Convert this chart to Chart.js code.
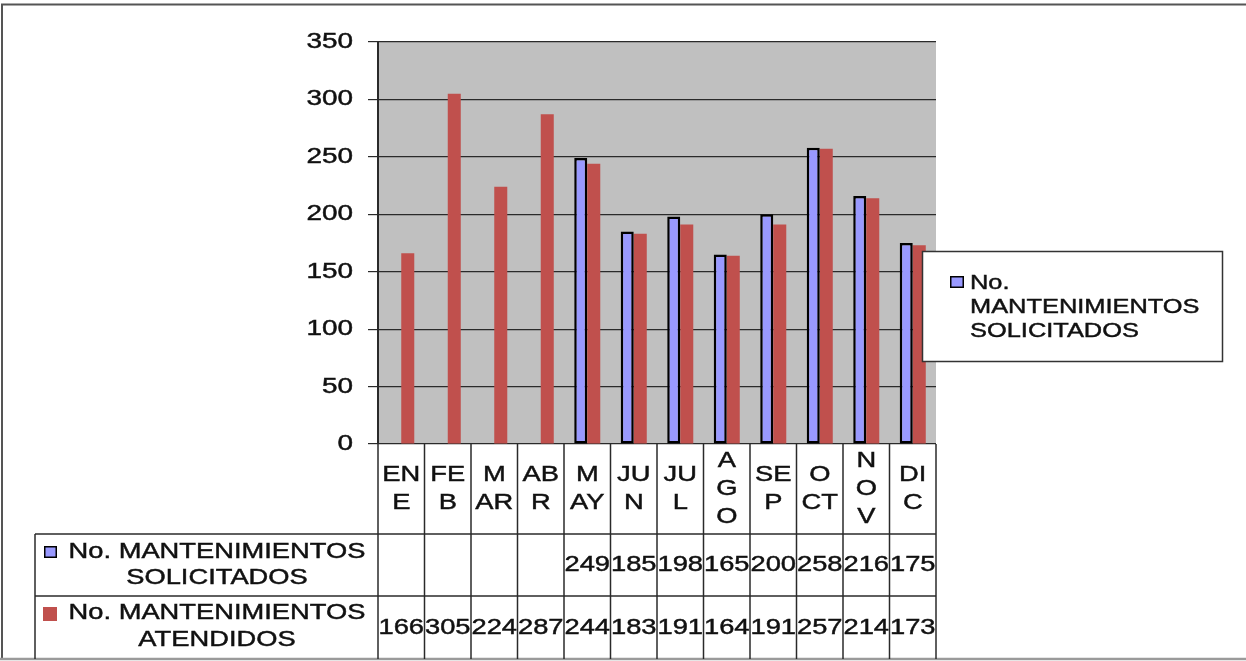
<!DOCTYPE html>
<html>
<head>
<meta charset="utf-8">
<title>Mantenimientos</title>
<script src="https://cdn.jsdelivr.net/npm/chart.js@4.4.1/dist/chart.umd.min.js"></script>
<style>
  html, body { margin: 0; padding: 0; background: #ffffff; }
  canvas { display: block; }
</style>
</head>
<body>
<canvas id="chart" width="1246" height="661"></canvas>
<script>
// Months and the way each name wraps inside its narrow table column
const months = ['ENE', 'FEB', 'MAR', 'ABR', 'MAY', 'JUN', 'JUL', 'AGO', 'SEP', 'OCT', 'NOV', 'DIC'];
const monthLines = [['EN', 'E'], ['FE', 'B'], ['M', 'AR'], ['AB', 'R'], ['M', 'AY'], ['JU', 'N'],
                    ['JU', 'L'], ['A', 'G', 'O'], ['SE', 'P'], ['O', 'CT'], ['N', 'O', 'V'], ['DI', 'C']];

// Series
const solicitadosName = ['No. MANTENIMIENTOS', 'SOLICITADOS'];
const atendidosName = ['No. MANTENIMIENTOS', 'ATENDIDOS'];
const solicitados = [null, null, null, null, 249, 185, 198, 165, 200, 258, 216, 175];
const atendidos = [166, 305, 224, 287, 244, 183, 191, 164, 191, 257, 214, 173];

// Value axis
const yTicks = [0, 50, 100, 150, 200, 250, 300, 350];

const BLUE = '#9999ff';
const RED = '#c0504d';
const INK = '#111111';
const LINE = '#2a2a2a';
const FONT = '"Liberation Sans", Arial, sans-serif';
const SX = 1.27; // horizontal stretch of the lettering

function wideText(ctx, txt, x, y, align, size) {
  ctx.save();
  ctx.font = size + 'px ' + FONT;
  ctx.fillStyle = INK;
  ctx.strokeStyle = INK;
  ctx.lineWidth = 0.45;
  ctx.textBaseline = 'middle';
  ctx.translate(x, y);
  ctx.scale(SX, 1);
  ctx.textAlign = align;
  ctx.fillText(txt, 0, 0);
  ctx.strokeText(txt, 0, 0);
  ctx.restore();
}

function line(ctx, x1, y1, x2, y2, color, w) {
  ctx.save();
  ctx.strokeStyle = color;
  ctx.lineWidth = w;
  ctx.beginPath();
  ctx.moveTo(x1, y1);
  ctx.lineTo(x2, y2);
  ctx.stroke();
  ctx.restore();
}

function swatch(ctx, x, y, w, h, fill, border) {
  ctx.save();
  ctx.fillStyle = fill;
  ctx.fillRect(x, y, w, h);
  if (border) {
    ctx.strokeStyle = border;
    ctx.lineWidth = 1.5;
    ctx.strokeRect(x + 0.75, y + 0.75, w - 1.5, h - 1.5);
  }
  ctx.restore();
}

const TABLE_LEFT = 35;
const ROW1_TOP = 534;
const ROW2_TOP = 596;
const TABLE_BOTTOM = 659;

// Grey plot background plus the page frame
const backdrop = {
  id: 'backdrop',
  beforeDraw(chart) {
    const { ctx, chartArea: a } = chart;
    ctx.save();
    ctx.fillStyle = '#c0c0c0';
    ctx.fillRect(a.left, a.top, a.right - a.left, a.bottom - a.top);
    ctx.restore();
    line(ctx, 1, 4.5, 1246, 4.5, '#555555', 2);
    line(ctx, 2, 4, 2, 659, '#555555', 2);
    line(ctx, 0, 659, 1246, 659, '#9a9a9a', 2.5);
  }
};

// Value labels, data table under the bars and the side legend
const tableAndLegend = {
  id: 'tableAndLegend',
  afterDraw(chart) {
    const { ctx, chartArea: a } = chart;
    const xs = chart.scales.x;
    const ys = chart.scales.y;
    const cw = (a.right - a.left) / months.length;

    // y tick labels
    ys.ticks.forEach(t => {
      wideText(ctx, String(t.value), 353, ys.getPixelForValue(t.value), 'right', 22);
    });

    // table grid
    for (let i = 0; i <= months.length; i++) {
      const x = i < months.length ? xs.getPixelForValue(i) - cw / 2 : xs.getPixelForValue(i - 1) + cw / 2;
      line(ctx, x, a.bottom, x, TABLE_BOTTOM, LINE, 1.5);
    }
    line(ctx, TABLE_LEFT, ROW1_TOP, a.right, ROW1_TOP, LINE, 1.5);
    line(ctx, TABLE_LEFT, ROW2_TOP, a.right, ROW2_TOP, LINE, 1.5);
    line(ctx, TABLE_LEFT, ROW1_TOP, TABLE_LEFT, TABLE_BOTTOM, LINE, 1.5);

    // month names
    monthLines.forEach((parts, i) => {
      const cx = xs.getPixelForValue(i);
      const step = 28;
      const y0 = 489 - (parts.length - 1) * step / 2;
      parts.forEach((p, k) => wideText(ctx, p, cx, y0 + k * step, 'center', 21.5));
    });

    // values
    solicitados.forEach((v, i) => {
      if (v !== null) wideText(ctx, String(v), xs.getPixelForValue(i), 565, 'center', 21.5);
    });
    atendidos.forEach((v, i) => {
      if (v !== null) wideText(ctx, String(v), xs.getPixelForValue(i), 628, 'center', 21.5);
    });

    // row headers
    swatch(ctx, 44, 546, 13, 12, BLUE, '#000000');
    wideText(ctx, solicitadosName[0], 217, 552, 'center', 21.5);
    wideText(ctx, solicitadosName[1], 217, 578, 'center', 21.5);
    swatch(ctx, 43, 607, 14, 14, RED, null);
    wideText(ctx, atendidosName[0], 217, 613, 'center', 21.5);
    wideText(ctx, atendidosName[1], 217, 640, 'center', 21.5);

    // side legend
    ctx.save();
    ctx.fillStyle = '#ffffff';
    ctx.fillRect(922, 251, 301, 111);
    ctx.strokeStyle = '#333333';
    ctx.lineWidth = 1.5;
    ctx.strokeRect(922.5, 251.5, 300, 110);
    ctx.restore();
    swatch(ctx, 950, 276, 14, 12, BLUE, '#000000');
    wideText(ctx, 'No.', 970, 283, 'left', 20);
    wideText(ctx, 'MANTENIMIENTOS', 970, 307, 'left', 20);
    wideText(ctx, 'SOLICITADOS', 970, 331, 'left', 20);
  }
};

new Chart(document.getElementById('chart'), {
  type: 'bar',
  data: {
    labels: months,
    datasets: [
      {
        label: solicitadosName.join(' '),
        data: solicitados,
        backgroundColor: BLUE,
        borderColor: '#000000',
        borderWidth: 2.5,
        borderSkipped: false,
        categoryPercentage: 0.56,
        barPercentage: 1
      },
      {
        label: atendidosName.join(' '),
        data: atendidos,
        backgroundColor: RED,
        borderWidth: 0,
        categoryPercentage: 0.56,
        barPercentage: 1
      }
    ]
  },
  options: {
    responsive: false,
    animation: false,
    devicePixelRatio: 1,
    layout: { padding: { top: 42, left: 0, right: 1246 - 936, bottom: 661 - 444 } },
    plugins: { legend: { display: false }, tooltip: { enabled: false } },
    scales: {
      x: { display: false, offset: true },
      y: {
        min: yTicks[0],
        max: yTicks[yTicks.length - 1],
        afterFit(scale) { scale.width = 378; },
        afterBuildTicks(scale) { scale.ticks = yTicks.map(v => ({ value: v })); },
        ticks: { display: false },
        grid: { color: LINE, lineWidth: 1.2, tickLength: 10, drawTicks: true },
        border: { display: true, color: LINE, width: 2 }
      }
    }
  },
  plugins: [backdrop, tableAndLegend]
});
</script>
</body>
</html>
